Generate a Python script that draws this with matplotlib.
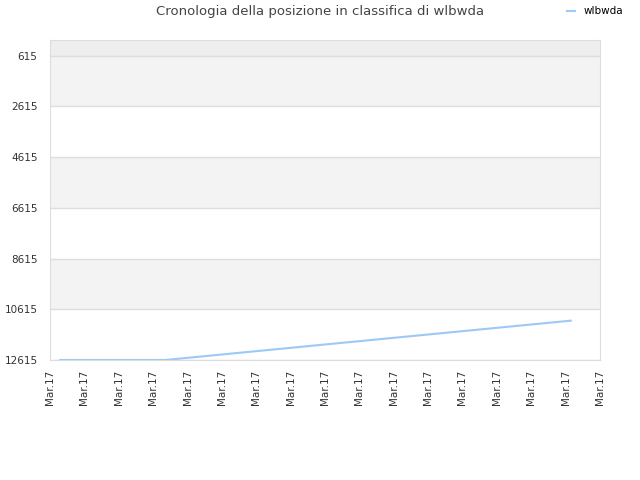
import numpy as np
from matplotlib import pyplot as plt

# positions along the time axis (tick index units) and ranking values
x_vals = [0.3, 3.35, 15.15]
rank_vals = [12615, 12615, 11064]
tick_labels = ["Mar.17"] * 17
y_ticks = [615, 2615, 4615, 6615, 8615, 10615, 12615]

plt.rcParams["font.family"] = ["DejaVu Sans"]
plt.rcParams["font.size"] = 7.5

fig = plt.figure(figsize=(6.4, 4.8), dpi=100)
ax = fig.add_axes([50 / 640, 120 / 480, 550 / 640, 320 / 480])

# background bands
ax.axhspan(0, 615, color="#eeeeee", zorder=0, lw=0)
for lo in (615, 4615, 8615):
    ax.axhspan(lo, lo + 2000, color="#f3f3f3", zorder=0, lw=0)

for y in y_ticks:
    ax.axhline(y, color="#dddddd", lw=1, zorder=1)

ax.plot(x_vals, rank_vals, color="#9ccaf5", lw=1.5, zorder=3, label="wlbwda")

ax.set_xlim(0, 16)
ax.set_ylim(12615, 0)
ax.set_yticks(y_ticks)
ax.set_yticklabels([str(v) for v in y_ticks], color="#333333")
ax.set_xticks(np.arange(17))
ax.set_xticklabels(tick_labels, rotation=90, color="#333333")
ax.tick_params(axis="y", length=0, pad=9)
ax.tick_params(axis="x", length=0, pad=7)

for s in ax.spines.values():
    s.set_color("#dddddd")

fig.text(0.5, 0.99, "Cronologia della posizione in classifica di wlbwda",
         ha="center", va="top", fontsize=9.5, color="#444444")
ax.legend(loc="upper right", bbox_to_anchor=(0.983, 1.0), bbox_transform=fig.transFigure,
          frameon=False, fontsize=7.5, handlelength=0.8, borderaxespad=0.2)

fig.savefig("out.png", dpi=100)
